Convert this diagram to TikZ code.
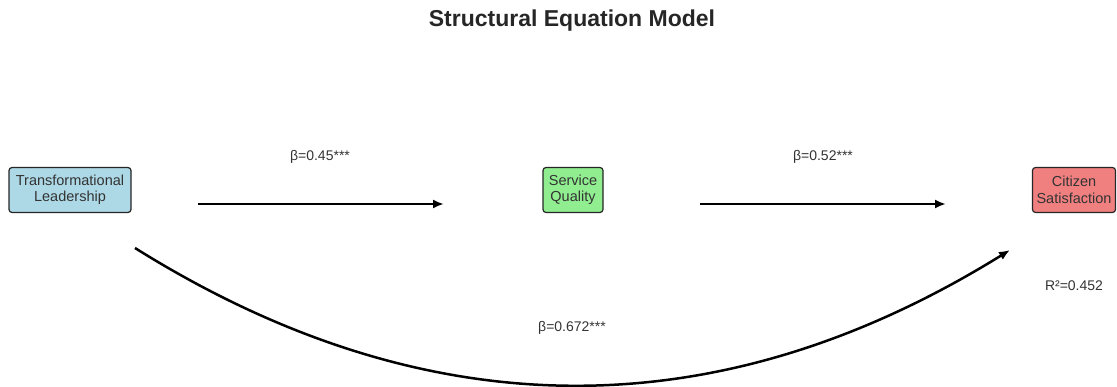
\documentclass[tikz,border=0pt]{standalone}
\usepackage{fontspec}
\setmainfont{Liberation Sans}
\usetikzlibrary{arrows.meta,calc}
\definecolor{tlblue}{HTML}{ADD8E6}
\definecolor{sqgreen}{HTML}{90EE90}
\definecolor{cscoral}{HTML}{F08080}
\definecolor{txtgray}{HTML}{333333}
\begin{document}
\begin{tikzpicture}[x=1pt,y=-1pt,
  varbox/.style={draw=black!85,line width=1.2pt,rounded corners=3pt,align=center,
    font=\fontsize{14.5}{16.5}\selectfont,text=txtgray,inner xsep=4pt,inner ysep=5pt},
  path/.style={line width=2.5pt,-{Latex[length=11pt,width=9pt]}},
  coef/.style={font=\fontsize{14}{16}\selectfont,text=txtgray}]
\useasboundingbox (0,0) rectangle (1117,387);
\node[font=\bfseries\fontsize{23}{26}\selectfont,text=black!85] (title) at (572,21) {Structural Equation Model};
\node[varbox,fill=tlblue,minimum width=122pt,minimum height=45pt] (tl) at (70,190) {Transformational\\Leadership};
\node[varbox,fill=sqgreen,minimum width=60pt,minimum height=45pt] (sq) at (573,190) {Service\\Quality};
\node[varbox,fill=cscoral,minimum width=83pt,minimum height=45pt] (cs) at (1074,190) {Citizen\\Satisfaction};
\coordinate (a1s) at (198,204);
\coordinate (a1e) at (444,204);
\coordinate (a2s) at (700,204);
\coordinate (a2e) at (946,204);
\coordinate (cs1) at (135,248);
\coordinate (ce1) at (1010,250);
\draw[path] (a1s) -- (a1e);
\draw[path] (a2s) -- (a2e);
\draw[path] (cs1) .. controls (426,430) and (718,431) .. (ce1);
\node[coef] (l1) at (320,157) {β=0.45***};
\node[coef] (l2) at (823,157) {β=0.52***};
\node[coef] (l3) at (572,328) {β=0.672***};
\node[coef] (r2) at (1074,286) {R²=0.452};
\end{tikzpicture}
\end{document}
